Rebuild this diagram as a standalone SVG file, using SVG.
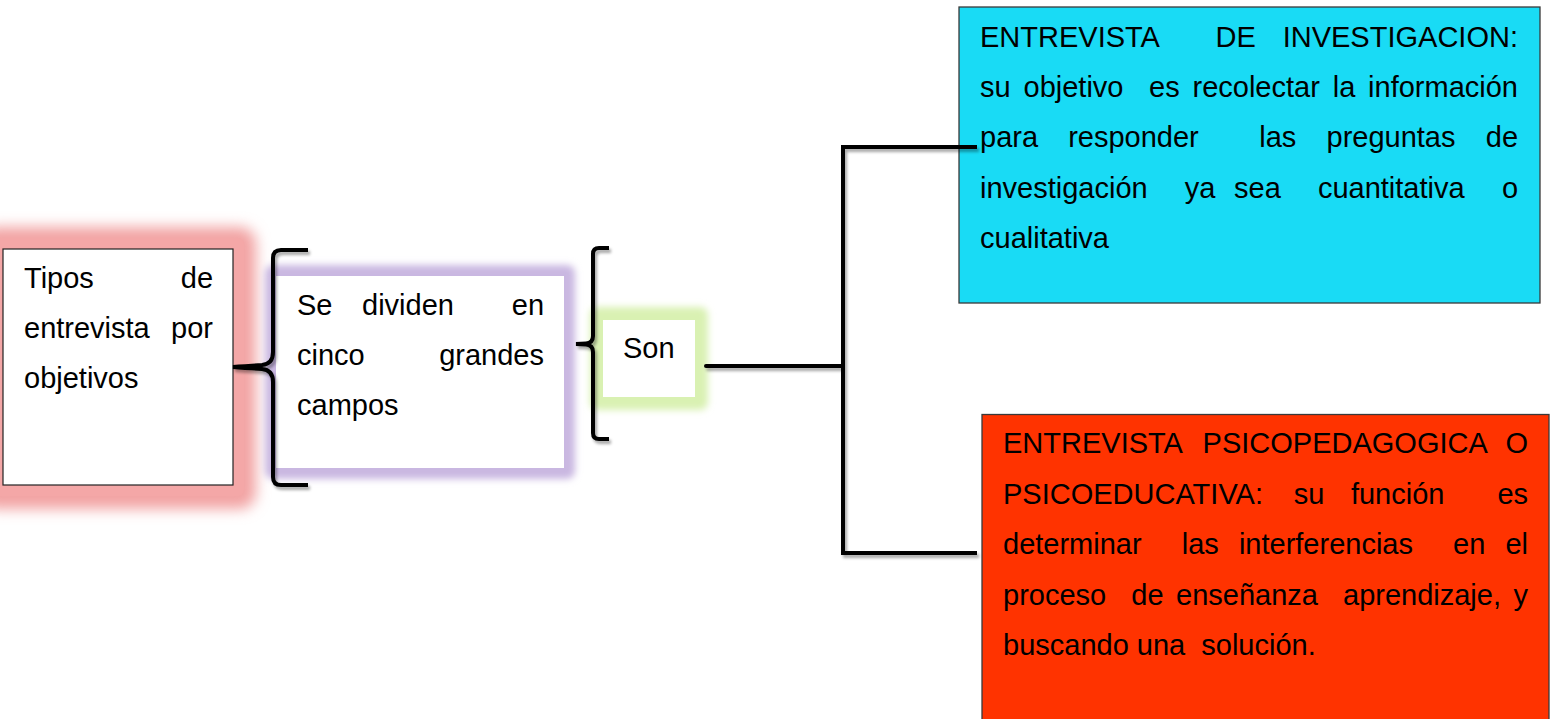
<svg xmlns="http://www.w3.org/2000/svg" width="1557" height="719" viewBox="0 0 1557 719">
<style>
  text { font-family: "Liberation Sans", Arial, sans-serif; font-size: 29px; fill: #000; }
  .line { fill: none; stroke: #000; stroke-width: 4; }
</style>
<defs>
  <filter id="blur8" x="-30%" y="-30%" width="160%" height="160%"><feGaussianBlur stdDeviation="7"/></filter>
  <filter id="blur4" x="-30%" y="-30%" width="160%" height="160%"><feGaussianBlur stdDeviation="3.5"/></filter>
  <filter id="shadow" x="-20%" y="-20%" width="140%" height="140%">
    <feGaussianBlur in="SourceAlpha" stdDeviation="1.6"/>
    <feOffset dx="2" dy="3" result="b"/>
    <feComponentTransfer><feFuncA type="linear" slope="0.35"/></feComponentTransfer>
    <feMerge><feMergeNode/><feMergeNode in="SourceGraphic"/></feMerge>
  </filter>
</defs>
<rect width="1557" height="719" fill="#fff"/>

<g id="node-tipos">
  <rect x="-20" y="227" width="276" height="282" rx="16" fill="#f2a3a3" filter="url(#blur8)"/>
  <rect x="-8" y="238" width="252" height="258" rx="6" fill="#f4a7a7"/>
  <rect x="3" y="249" width="230" height="236" fill="#fff" stroke="#222" stroke-width="1.2"/>
  <text y="288"><tspan x="24">Tipos</tspan><tspan x="180.75">de</tspan></text>
  <text y="338"><tspan x="24">entrevista</tspan><tspan x="171.1">por</tspan></text>
  <text x="24" y="388">objetivos</text>
</g>

<g id="node-dividen">
  <rect x="265" y="265" width="310" height="214" rx="8" fill="#c9b7e1" filter="url(#blur4)"/>
  <rect x="276" y="276" width="288" height="192" fill="#fff"/>
  <text y="315"><tspan x="297">Se</tspan><tspan x="362">dividen</tspan><tspan x="511.75">en</tspan></text>
  <text y="365"><tspan x="297">cinco</tspan><tspan x="439.2">grandes</tspan></text>
  <text x="297" y="415">campos</text>
</g>

<g id="node-son">
  <rect x="590" y="307" width="118" height="103" rx="8" fill="#d9f1b2" filter="url(#blur4)"/>
  <rect x="603" y="320" width="92" height="77" fill="#fff"/>
  <text x="623" y="358">Son</text>
</g>

<g id="node-investigacion">
  <rect x="959" y="7" width="581" height="296" fill="#19dbf5" stroke="#3a3a3a" stroke-width="1.3"/>
  <text y="46.5"><tspan x="980">ENTREVISTA</tspan><tspan x="1215.5">DE</tspan><tspan x="1282.7">INVESTIGACION:</tspan></text>
  <text y="97"><tspan x="980">su</tspan><tspan x="1023.5">objetivo</tspan><tspan x="1149.1">es</tspan><tspan x="1192.5">recolectar</tspan><tspan x="1332.7">la</tspan><tspan x="1368.1">información</tspan></text>
  <text y="147"><tspan x="980">para</tspan><tspan x="1068.2">responder</tspan><tspan x="1259.3">las</tspan><tspan x="1326.5">preguntas</tspan><tspan x="1485.75">de</tspan></text>
  <text y="197.5"><tspan x="980">investigación</tspan><tspan x="1184.8">ya</tspan><tspan x="1234">sea</tspan><tspan x="1317.9">cuantitativa</tspan><tspan x="1501.9">o</tspan></text>
  <text x="980" y="247.5">cualitativa</text>
</g>

<g id="node-psicopedagogica">
  <rect x="982" y="414.5" width="567" height="310" fill="#ff3300" stroke="#3a3a3a" stroke-width="1.3"/>
  <text y="453"><tspan x="1003">ENTREVISTA</tspan><tspan x="1202.6">PSICOPEDAGOGICA</tspan><tspan x="1505.4">O</tspan></text>
  <text y="503.5"><tspan x="1003">PSICOEDUCATIVA:</tspan><tspan x="1293.8">su</tspan><tspan x="1350.9">función</tspan><tspan x="1497.4">es</tspan></text>
  <text y="554"><tspan x="1003">determinar</tspan><tspan x="1181.7">las</tspan><tspan x="1238.9">interferencias</tspan><tspan x="1453.1">en</tspan><tspan x="1505.4">el</tspan></text>
  <text y="604.5"><tspan x="1003">proceso</tspan><tspan x="1131.3">de</tspan><tspan x="1176">enseñanza</tspan><tspan x="1343">aprendizaje,</tspan><tspan x="1513.5">y</tspan></text>
  <text y="655"><tspan x="1003">buscando</tspan><tspan x="1136.8">una</tspan><tspan x="1201.3">solución.</tspan></text>
</g>

<g id="connectors" filter="url(#shadow)">
  <path class="line" d="M308,250 H281 Q273,250 273,258 V352 Q273,364 262,365 Q245,366 233,367 Q245,368 262,369 Q273,370 273,382 V477 Q273,485 281,485 H308"/>
  <path class="line" d="M609,248 H599 Q593,248 593,254 V336 Q593,343 586,343.5 L576,344 L586,344.5 Q593,345 593,352 V433 Q593,439 599,439 H609"/>
  <path class="line" stroke-linecap="round" d="M706,366 H843"/>
  <path class="line" d="M977,147 H843 V553 H977"/>
</g>
</svg>
